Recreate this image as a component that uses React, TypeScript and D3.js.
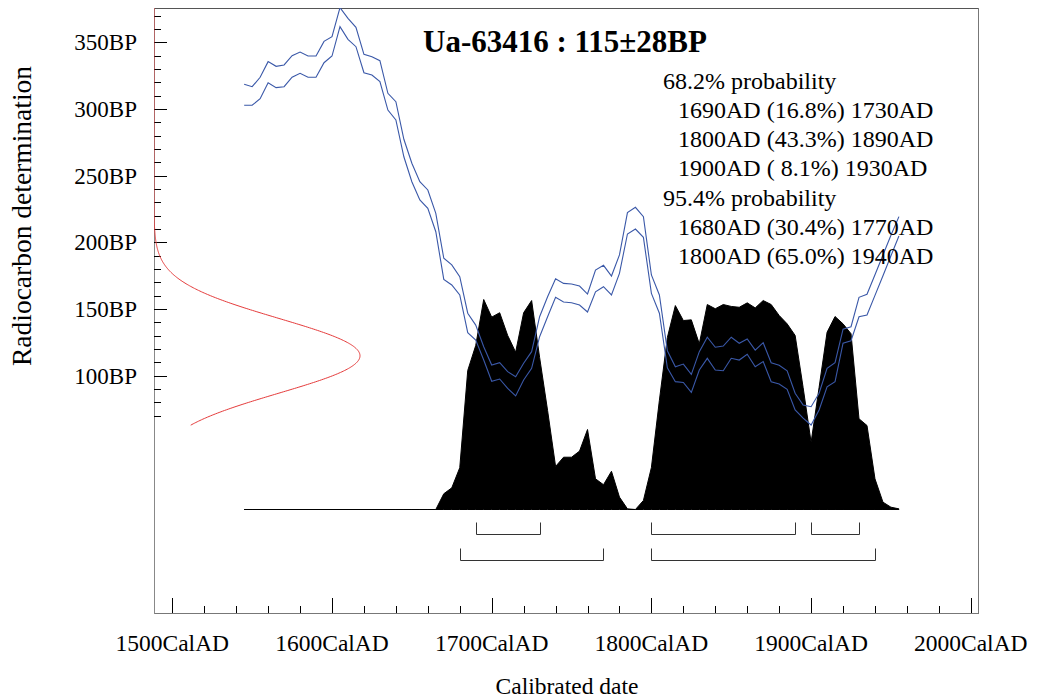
import React from 'react';
import * as d3 from 'd3';

// ---- Data ----
const START_YEAR = 1545;
const YEAR_STEP = 5;

// Calibration curve envelope (BP), every 5 years from 1545 to 1955
const upperBP = [
  318.5, 316.7, 323.8, 335.5, 332, 333, 340, 342.7, 339.7, 339.7,
  350.7, 354.2, 376, 368, 361.2, 341, 339.2, 336.2, 311.8, 305.5,
  277.3, 259.3, 245.5, 239.3, 221.8, 188.1, 183.1, 174.3, 146.9, 138,
  121.8, 108.1, 109.8, 103.1, 99.3, 109.4, 118.1, 144.3, 159.3, 172.8,
  169.3, 168.8, 167.3, 161.3, 179.3, 182.8, 174.8, 190.6, 222.3, 226.3,
  219.3, 175.6, 160.6, 118.8, 106.8, 108.8, 101.1, 118.1, 128.9, 121.4,
  122.3, 128.9, 124.4, 127.6, 119.3, 124.8, 109.8, 107.9, 103.8, 86.9,
  78.1, 76.8, 86.9, 105.6, 109.8, 134.9, 136.8, 158.8, 161.1, 175.8,
  190.5, 205.3, 219.3,
];
const lowerBP = [
  302.8, 302.8, 307.7, 319.7, 316, 316.7, 323.8, 326.8, 323.8, 323.8,
  334.7, 339.7, 361.7, 352.2, 346.7, 327.2, 325.5, 320.5, 299.2, 291.8,
  264.2, 245.5, 231.8, 225.6, 208, 172.3, 168.1, 160.6, 132.3, 126.8,
  111.8, 95.9, 97.6, 90.6, 84.9, 96.9, 105.6, 129.3, 144.3, 158.8,
  155.3, 154.8, 153.1, 147.8, 163, 166.8, 160.6, 176.8, 206.3, 210,
  203.8, 161.8, 146.9, 106, 95.6, 95, 87.6, 104.3, 113.1, 104.3,
  103.8, 113.1, 111.8, 116.1, 106.8, 110.6, 95.6, 93.9, 89.9, 74.4,
  68.2, 63.1, 74.4, 91.8, 95.6, 124.4, 126.3, 144.3, 145.6, 160.3,
  175, 190, 204.8,
];
// Calibrated probability (relative, max = 100)
const probability = [
  0, 0, 0, 0, 0, 0, 0, 0, 0, 0,
  0, 0, 0, 0, 0, 0, 0, 0, 0, 0,
  0, 0, 0, 0, 0,
  7.5, 10.3, 19.9, 66.2, 78.1, 100, 91.6, 93.7, 82.9, 74.9,
  93.7, 99.5, 72.4, 47.1, 20.5, 24.9, 24.9, 27.8, 38.1, 14.6,
  11.8, 18.2, 5.9, 0.3, 0, 4.3, 20, 52, 81.9, 97.1,
  90, 90.3, 78.9, 97.6, 95.6, 97.6, 96.7, 96.3, 98.4, 96,
  99.5, 97.6, 92.4, 88.4, 82.9, 58.1, 32, 58.1, 84.4, 91.9,
  88.4, 83.7, 43.2, 40, 14.6, 3.5, 1.1, 0.3,
];

// Radiocarbon measurement
const MEASURE_MEAN = 115;
const MEASURE_SIGMA = 28;
const MEASURE_MIN_BP = 63;
const MEASURE_MAX_BP = 380;

// Ranges
const range68 = [[1690, 1730], [1800, 1890], [1900, 1930]];
const range95 = [[1680, 1770], [1800, 1940]];

// Ticks
const xMajorTicks = [1500, 1600, 1700, 1800, 1900, 2000];
const xMinorStep = 20;
const yMajorTicks = [100, 150, 200, 250, 300, 350];
const yMinorStep = 10;
const yTickMin = 70;
const yTickMax = 370;

const title = 'Ua-63416 : 115±28BP';
const probLines = [
  { text: '68.2% probability', indent: false },
  { text: '1690AD (16.8%) 1730AD', indent: true },
  { text: '1800AD (43.3%) 1890AD', indent: true },
  { text: '1900AD ( 8.1%) 1930AD', indent: true },
  { text: '95.4% probability', indent: false },
  { text: '1680AD (30.4%) 1770AD', indent: true },
  { text: '1800AD (65.0%) 1940AD', indent: true },
];

const FONT = "'Liberation Serif', 'Times New Roman', Times, serif";

export default function App() {
  const W = 1037, H = 699;
  const L = 154, R = 978, T = 8, B = 613;
  const years = upperBP.map((_, i) => START_YEAR + i * YEAR_STEP);

  const x = d3.scaleLinear().domain([1500, 2000]).range([172.3, 970.8]);
  const y = d3.scaleLinear().domain([100, 350]).range([375.8, 42.3]);
  const baseY = 509.5;
  const p = d3.scaleLinear().domain([0, 100]).range([baseY, baseY - 210]);

  const curveLine = d3.line<number>().x((_, i) => x(years[i])).y((d) => y(d));
  const area = d3.area<number>()
    .x((_, i) => x(years[i]))
    .y0(baseY)
    .y1((d) => p(d));

  // measurement density curve
  const densX = d3.scaleLinear().domain([0, 1]).range([L, 360]);
  const bpSamples = d3.range(MEASURE_MIN_BP, MEASURE_MAX_BP + 0.01, 0.5);
  const dens = d3.line<number>()
    .x((bp) => densX(Math.exp(-0.5 * ((bp - MEASURE_MEAN) / MEASURE_SIGMA) ** 2)))
    .y((bp) => y(bp));

  const xTicks = d3.range(1500, 2000.1, xMinorStep);
  const yTicks = d3.range(yTickMin, yTickMax + 0.1, yMinorStep);

  const bracket = (r: number[], yy: number, key: string) => {
    const x0 = Math.round(x(r[0])) + 0.5;
    const x1 = Math.round(x(r[1])) + 0.5;
    return (
      <path key={key} d={`M${x0},${yy - 12}V${yy}H${x1}V${yy - 12}`} fill="none" stroke="#333" strokeWidth={1} />
    );
  };

  return (
    <svg width={W} height={H} style={{ position: 'absolute', left: 0, top: 0, display: 'block', background: '#fff' }} fontFamily={FONT}>
      <defs>
        <clipPath id="plotClip">
          <rect x={L} y={T} width={R - L} height={B - T} />
        </clipPath>
      </defs>
      <rect x={0} y={0} width={W} height={H} fill="#fff" />

      {/* frame */}
      <line x1={L} x2={R} y1={T + 0.5} y2={T + 0.5} stroke="#555" />
      <line x1={R + 0.5} x2={R + 0.5} y1={T} y2={B} stroke="#777" />
      <line x1={L} x2={R + 1} y1={B + 0.5} y2={B + 0.5} stroke="#777" />
      <line x1={L + 0.5} x2={L + 0.5} y1={T} y2={B + 1} stroke="#888" />

      {/* x ticks */}
      {xTicks.map((t) => {
        const major = xMajorTicks.includes(t);
        const xx = Math.round(x(t)) + 0.5;
        return <line key={'xt' + t} x1={xx} x2={xx} y1={B} y2={B - (major ? 15 : 7)} stroke="#000" />;
      })}
      {xMajorTicks.map((t) => (
        <text key={'xl' + t} x={x(t)} y={651} textAnchor="middle" fontSize={23.5} fill="#000">{t}CalAD</text>
      ))}

      {/* y ticks */}
      {yTicks.map((t) => {
        const major = yMajorTicks.includes(t);
        const yy = Math.round(y(t)) + 0.5;
        return <line key={'yt' + t} x1={L} x2={L + (major ? 13 : 7)} y1={yy} y2={yy} stroke="#000" />;
      })}
      {yMajorTicks.map((t) => (
        <text key={'yl' + t} x={137} y={y(t) + 8} textAnchor="end" fontSize={23} fill="#000">{t}BP</text>
      ))}

      {/* axis titles */}
      <text x={567} y={694} textAnchor="middle" fontSize={23.5} fill="#000">Calibrated date</text>
      <text transform={`translate(31,216) rotate(-90)`} textAnchor="middle" fontSize={27.5} fill="#000">Radiocarbon determination</text>

      <g clipPath="url(#plotClip)">
        {/* probability distribution */}
        <path d={area(probability) || ''} fill="#000" stroke="#000" strokeWidth={1} />
        {/* calibration curve */}
        <path d={curveLine(upperBP) || ''} fill="none" stroke="#3a58a8" strokeWidth={1.1} />
        <path d={curveLine(lowerBP) || ''} fill="none" stroke="#3a58a8" strokeWidth={1.1} />
        {/* measurement */}
        <path d={dens(bpSamples) || ''} fill="none" stroke="#e53b3b" strokeWidth={1} />
      </g>

      {/* ranges */}
      {range68.map((r, i) => bracket(r, 534.5, 'r68' + i))}
      {range95.map((r, i) => bracket(r, 560.5, 'r95' + i))}

      {/* title */}
      <text x={423} y={52} fontSize={31} fontWeight="bold" fill="#000">{title}</text>

      {/* probability text */}
      {probLines.map((l, i) => (
        <text key={'pl' + i} x={l.indent ? 678 : 663} y={88.5 + i * 29.3} fontSize={24} fill="#000" style={{ whiteSpace: 'pre' }} xmlSpace="preserve">{l.text}</text>
      ))}
    </svg>
  );
}
